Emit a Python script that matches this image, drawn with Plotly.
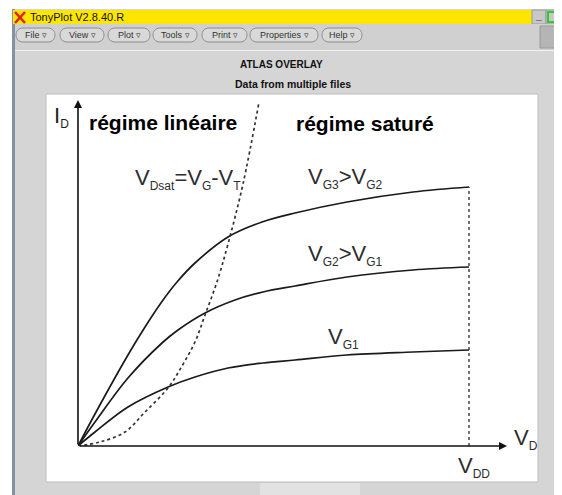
import plotly.graph_objects as go

# drain current vs drain voltage (arbitrary units, VDD = 5)
vd_g3 = [0, 0.217, 0.639, 0.857, 1.074, 1.266, 1.496, 1.918, 2.353, 2.775, 3.440, 4.284, 5.0]
id_g3 = [0, 0.64, 1.82, 2.38, 2.89, 3.28, 3.66, 4.18, 4.48, 4.66, 4.88, 5.08, 5.18]

vd_g2 = [0, 0.217, 0.639, 1.074, 1.279, 1.624, 2.008, 2.366, 2.775, 3.440, 4.284, 5.0]
id_g2 = [0, 0.48, 1.36, 2.06, 2.32, 2.66, 2.92, 3.08, 3.20, 3.38, 3.52, 3.58]

vd_g1 = [0, 0.217, 0.639, 1.151, 1.496, 1.918, 2.366, 2.775, 3.440, 4.284, 5.0]
id_g1 = [0, 0.28, 0.78, 1.18, 1.38, 1.56, 1.66, 1.72, 1.82, 1.88, 1.92]

# VDsat = VG - VT locus
vd_sat = [0, 0.281, 0.601, 0.857, 1.151, 1.330, 1.496, 1.624, 1.777, 1.918, 2.110, 2.315]
id_sat = [0, 0.08, 0.28, 0.68, 1.16, 1.60, 2.08, 2.62, 3.28, 4.04, 5.24, 6.88]

VDD = 5.0
x_max = 5.486
y_max = 6.92

menu_items = ["File", "View", "Plot", "Tools", "Print", "Properties", "Help"]
menu_x = [(16, 55), (60, 104), (108, 150), (153, 197), (202, 247), (250, 318), (322, 362)]

# the page body has an 8px margin, so the figure starts at (8, 8) in the window
OFF = 8
W, H = 562 - OFF, 495 - OFF


def px(x):
    return (x - OFF) / W


def py(y):
    return 1 - (y - OFF) / H


def rect(x0, y0, x1, y1, fill, line=None, lw=0):
    return dict(type="rect", xref="paper", yref="paper", x0=px(x0), x1=px(x1),
                y0=py(y1), y1=py(y0), fillcolor=fill,
                line=dict(color=line or fill, width=lw), layer="below")


def pill(x0, x1, y0, y1):
    r = (y1 - y0) / 2
    k = 1.33 * r
    pts = [
        ("M", [(x0 + r, y0)]),
        ("L", [(x1 - r, y0)]),
        ("C", [(x1 - r + k, y0), (x1 - r + k, y1), (x1 - r, y1)]),
        ("L", [(x0 + r, y1)]),
        ("C", [(x0 + r - k, y1), (x0 + r - k, y0), (x0 + r, y0)]),
    ]
    path = ""
    for cmd, ps in pts:
        path += cmd + " " + " ".join("%.5f,%.5f" % (px(a), py(b)) for a, b in ps) + " "
    path += "Z"
    return dict(type="path", xref="paper", yref="paper", path=path,
                fillcolor="#d9d9d9", line=dict(color="#8c8c8c", width=1), layer="below")


fig = go.Figure()

line_col = "#1a1a1a"
for xs, ys in [(vd_g3, id_g3), (vd_g2, id_g2), (vd_g1, id_g1)]:
    fig.add_trace(go.Scatter(x=xs, y=ys, mode="lines", line=dict(color=line_col, width=1.7, shape="spline"),
                             hoverinfo="skip", showlegend=False))
fig.add_trace(go.Scatter(x=vd_sat, y=id_sat, mode="lines",
                         line=dict(color="#333333", width=1.7, dash="dot", shape="spline"),
                         hoverinfo="skip", showlegend=False))

shapes = []
# window chrome
shapes.append(rect(12, 9, 562, 495, "#d5d5d5"))
shapes.append(rect(12, 9, 15, 495, "#8393a3"))
shapes.append(rect(13, 10, 532, 24, "#ffe600"))
shapes.append(rect(532, 10, 546, 24, "#c8c8c8", "#9a9a9a", 1))
shapes.append(rect(546, 10, 561, 24, "#c8c8c8", "#9a9a9a", 1))
shapes.append(rect(548, 12, 558, 22, "#c8c8c8", "#2ecc2e", 2))
shapes.append(rect(15, 24, 562, 50, "#d0d0d0"))
shapes.append(rect(540, 26, 560, 48, "#b5b5b5", "#9a9a9a", 1))
shapes.append(rect(15, 50, 562, 51, "#f2f2f2"))
shapes.append(rect(46, 94, 538, 482, "#ffffff", "#bdbdbd", 1))
shapes.append(rect(260, 483, 360, 495, "#e2e2e2"))
for (a, b) in menu_x:
    shapes.append(pill(a, b, 28, 42))
# red X icon
shapes.append(dict(type="line", xref="paper", yref="paper", x0=px(15), y0=py(12), x1=px(25), y1=py(23),
                   line=dict(color="#e02020", width=2.5)))
shapes.append(dict(type="line", xref="paper", yref="paper", x0=px(25), y0=py(12), x1=px(15), y1=py(23),
                   line=dict(color="#e02020", width=2.5)))
# VDD dotted line
shapes.append(dict(type="line", xref="x", yref="y", x0=VDD, x1=VDD, y0=0, y1=id_g3[-1],
                   line=dict(color="#444444", width=1.5, dash="dot")))

ann = []
ff = "Liberation Sans, Arial, sans-serif"


def sub(s, size=12):
    return "<sub><span style='font-size:%dpx'>%s</span></sub>" % (size, s)


def text(x, y, s, size, color="#000", xanchor="left", yanchor="middle", bold=False):
    ann.append(dict(xref="paper", yref="paper", x=px(x), y=py(y), text=("<b>%s</b>" % s) if bold else s,
                    showarrow=False, xanchor=xanchor, yanchor=yanchor,
                    font=dict(family=ff, size=size, color=color)))


text(28, 17, "TonyPlot V2.8.40.R", 11, "#111")
text(538, 15, "_", 10, "#666", xanchor="center")
for (a, b), name in zip(menu_x, menu_items):
    text((a + b) / 2, 35, name + " ▿", 9, "#333", xanchor="center")
text(281, 64, "ATLAS OVERLAY", 10, "#111", xanchor="center", bold=True)
text(293, 84, "Data from multiple files", 10.5, "#111", xanchor="center", bold=True)

text(52, 117, "I" + sub("D", 12), 22, "#222")
text(87, 122, "régime linéaire", 21, "#000", bold=True)
text(294, 124, "régime saturé", 21, "#000", bold=True)
gray = "#2d2d2d"
text(133, 179, "V" + sub("Dsat") + "=V" + sub("G") + "-V" + sub("T"), 22, gray)
text(306, 178, "V" + sub("G3") + ">V" + sub("G2"), 22, gray)
text(306, 255, "V" + sub("G2") + ">V" + sub("G1"), 22, gray)
text(326, 338, "V" + sub("G1"), 22, gray)
text(512, 439, "V" + sub("D"), 22, gray)
text(456, 467, "V" + sub("DD"), 22, gray)

# axes with arrow heads
ann.append(dict(xref="x", yref="y", axref="x", ayref="y", x=x_max, y=0, ax=0, ay=0, text="",
                showarrow=True, arrowhead=2, arrowsize=1, arrowwidth=1.6, arrowcolor="#111"))
ann.append(dict(xref="x", yref="y", axref="x", ayref="y", x=0, y=y_max, ax=0, ay=0, text="",
                showarrow=True, arrowhead=2, arrowsize=1, arrowwidth=1.6, arrowcolor="#111"))

fig.update_layout(
    width=W, height=H,
    margin=dict(l=0, r=0, t=0, b=0),
    paper_bgcolor="#ffffff",
    plot_bgcolor="rgba(0,0,0,0)",
    xaxis=dict(domain=[px(78), px(507)], range=[0, x_max], visible=False, fixedrange=True),
    yaxis=dict(domain=[py(446), py(100)], range=[0, y_max], visible=False, fixedrange=True),
    shapes=shapes,
    annotations=ann,
    showlegend=False,
)

fig.write_html("out.html", config={"displayModeBar": False})
